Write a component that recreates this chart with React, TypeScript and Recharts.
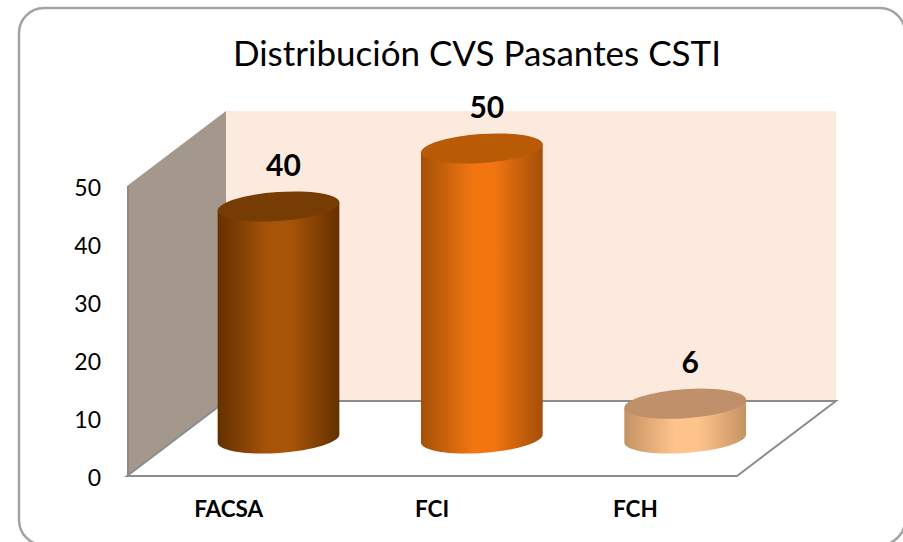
import { BarChart, Bar, XAxis, YAxis, LabelList } from "recharts";

const categories = ["FACSA", "FCI", "FCH"];
const values = [40, 50, 6];
const sideDark = ["#643000", "#a44f08", "#c59364"];
const sideLight = ["#a85408", "#f27510", "#ffc48c"];
const topColors = ["#773c03", "#b85a06", "#bf9069"];
const yTicks = [0, 10, 20, 30, 40, 50];

const data = categories.map((name, i) => ({ name, value: values[i], index: i }));

const W = 903;
const H = 542;
const left = 127;
const right = 737;
const top = 186;
const bottom = 476;
// depth of the fake 3d box
const depthX = 99;
const depthY = 75;

function Walls() {
  return (
    <g>
      <rect x={19} y={8} width={886} height={537} rx={25} fill="#fff" stroke="#a3a3a3" strokeWidth={2.5} />
      <polygon
        points={`${left + depthX},${top - depthY} ${right + depthX},${top - depthY} ${right + depthX},${bottom - depthY} ${left + depthX},${bottom - depthY}`}
        fill="#fdeade"
      />
      <polygon
        points={`${left},${top} ${left + depthX},${top - depthY} ${left + depthX},${bottom - depthY} ${left},${bottom}`}
        fill="#a4978c"
      />
      <line x1={left + 1} y1={top} x2={left + 1} y2={bottom} stroke="#8f8780" strokeWidth={2} />
      <polygon
        points={`${left},${bottom} ${left + depthX},${bottom - depthY} ${right + depthX},${bottom - depthY} ${right},${bottom}`}
        fill="#fff"
        stroke="#8c8c8c"
        strokeWidth={2}
      />
      <text x={477} y={66} textAnchor="middle" fontFamily="Lato" fontSize={35} fill="#000">
        Distribución CVS Pasantes CSTI
      </text>
    </g>
  );
}

function Cylinder(props: any) {
  const { x, y, width, height, index } = props;
  const cx = x + width / 2 + depthX / 2;
  const rx = width / 2;
  const ry = 14.5;
  const tilt = -4;
  const rad = (tilt * Math.PI) / 180;
  const ex = rx * Math.cos(rad);
  const ey = rx * Math.sin(rad);
  const topY = y - depthY / 2;
  const botY = y + height - depthY / 2;
  const body = `M${cx - ex},${topY - ey} L${cx - ex},${botY - ey} A${rx},${ry} ${tilt} 0 0 ${cx + ex},${botY + ey} L${cx + ex},${topY + ey} Z`;
  return (
    <g>
      <path d={body} fill={`url(#side${index})`} />
      <ellipse
        cx={cx}
        cy={topY}
        rx={rx}
        ry={ry}
        transform={`rotate(${tilt} ${cx} ${topY})`}
        fill={topColors[index]}
      />
    </g>
  );
}

function ValueLabel(props: any) {
  const { x, y, width, value } = props;
  return (
    <text
      x={x + width / 2 + depthX / 2 + 5}
      y={y - depthY / 2 - 31}
      textAnchor="middle"
      fontFamily="Lato"
      fontWeight={700}
      fontSize={30}
      fill="#000"
    >
      {value}
    </text>
  );
}

export default function App() {
  return (
    <div style={{ position: "absolute", left: 0, top: 0, width: W, height: H, overflow: "hidden", background: "#fff" }}>
      <BarChart
        width={W}
        height={H}
        data={data}
        margin={{ top, bottom: 0, left: left - 60, right: W - right }}
      >
        <defs>
          {categories.map((c, i) => (
            <linearGradient key={c} id={`side${i}`} x1="0" y1="0" x2="1" y2="0">
              <stop offset="0" stopColor={sideDark[i]} />
              <stop offset="0.42" stopColor={sideLight[i]} />
              <stop offset="0.6" stopColor={sideLight[i]} />
              <stop offset="1" stopColor={sideDark[i]} />
            </linearGradient>
          ))}
        </defs>
        <Walls />
        <XAxis
          dataKey="name"
          axisLine={false}
          tickLine={false}
          height={H - bottom}
          interval={0}
          tick={{ fontFamily: "Lato", fontWeight: 700, fontSize: 22.5, fill: "#000" }}
          tickMargin={19}
        />
        <YAxis
          width={60}
          domain={[0, 50]}
          ticks={yTicks}
          axisLine={false}
          tickLine={false}
          tickMargin={20}
          tick={{ fontFamily: "Lato", fontSize: 23, fill: "#000", dy: 2 }}
        />
        <Bar dataKey="value" barSize={122} shape={<Cylinder />} isAnimationActive={false}>
          <LabelList dataKey="value" content={<ValueLabel />} />
        </Bar>
      </BarChart>
    </div>
  );
}
